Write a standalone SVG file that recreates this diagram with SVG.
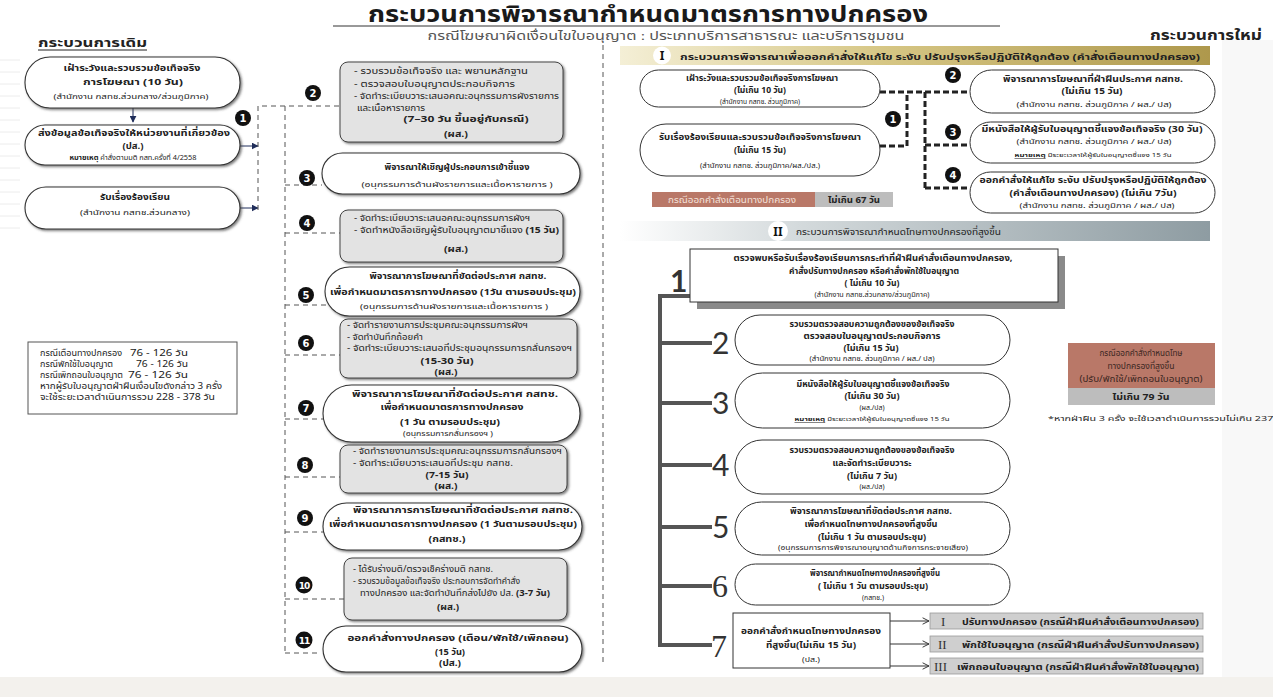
<svg xmlns="http://www.w3.org/2000/svg" width="1273" height="697" viewBox="0 0 1273 697">
<style>
text{font-family:"Noto Sans Thai","Noto Sans","DejaVu Sans",sans-serif;fill:#222;}
.c{text-anchor:middle;}
.b{font-weight:bold;}
.f9{font-size:9.5px;}
.f8{font-size:8.5px;}
.fb{font-size:8px;}
.f7{font-size:7.5px;}
.f6{font-size:6.5px;}
.f5{font-size:5.5px;}
.pill{fill:#fff;stroke:#333;stroke-width:1.1;filter:url(#sh);}
.pill2{fill:#fff;stroke:#333;stroke-width:1;}
.gbox{fill:#e3e3e3;stroke:#444;stroke-width:1;filter:url(#sh);}
.dash{fill:none;stroke:#555;stroke-width:1;stroke-dasharray:5 4;}
.tdash{fill:none;stroke:#222;stroke-width:3;stroke-dasharray:6 3;}
.badge{fill:#111;}
.bn{fill:#fff;font-family:"DejaVu Sans",sans-serif;font-weight:bold;font-size:10px;text-anchor:middle;}
.brk{fill:none;stroke:#555;stroke-width:4;}
.num{font-family:"Lato","DejaVu Sans",sans-serif;font-size:30px;fill:#333;}
.numS{font-family:"Liberation Serif",serif;font-size:32px;fill:#333;}
.rom{font-family:"Liberation Serif",serif;font-size:13px;fill:#333;}
.arr{stroke:#333;stroke-width:1;fill:none;marker-end:url(#chev);}
.ml{stroke:#ececec;stroke-width:1;}
</style>
<defs>
<filter id="sh" x="-10%" y="-20%" width="120%" height="150%">
<feDropShadow dx="1.5" dy="1.5" stdDeviation="0.8" flood-color="#444" flood-opacity="0.7"/>
</filter>
<linearGradient id="gold" x1="0" x2="1" y1="0" y2="0">
<stop offset="0" stop-color="#f4efd6"/>
<stop offset="0.45" stop-color="#d6c684"/>
<stop offset="1" stop-color="#ae984c"/>
</linearGradient>
<linearGradient id="grey" x1="0" x2="1" y1="0" y2="0">
<stop offset="0" stop-color="#ffffff"/>
<stop offset="0.3" stop-color="#d4dadc"/>
<stop offset="1" stop-color="#8e9ca2"/>
</linearGradient>
<marker id="navy" viewBox="0 0 10 10" refX="9" refY="5" markerWidth="7" markerHeight="7" orient="auto">
<path d="M0 0 L10 5 L0 10 Z" fill="#1f2d5a"/>
</marker>
<marker id="chev" viewBox="0 0 10 10" refX="9" refY="5" markerWidth="8" markerHeight="8" orient="auto" markerUnits="userSpaceOnUse">
<path d="M1 1 L9 5 L1 9" fill="none" stroke="#333" stroke-width="1.2"/>
</marker>
</defs>
<rect width="1273" height="697" fill="#fff"/>
<rect x="0" y="677" width="1273" height="20" fill="#f3f1ed"/>
<rect x="1222" y="40" width="51" height="637" fill="#f8f8f8"/>
<path class="ml" d="M0 60 H20 M0 72 H20 M0 84 H20 M0 96 H20 M0 108 H20 M0 120 H20 M0 132 H20 M0 144 H20 M0 156 H20 M0 168 H20 M0 180 H20 M0 192 H20 M0 204 H20 M0 216 H20 M0 228 H20"/>

<g id="title">
<text x="648" y="22" class="c b" style="font-size:22.5px;fill:#1a1a1a" textLength="560" lengthAdjust="spacingAndGlyphs">กระบวนการพิจารณากำหนดมาตรการทางปกครอง</text>
<line x1="333" y1="26" x2="1000" y2="26" stroke="#333" stroke-width="1"/>
<text x="666" y="39.5" class="c" style="font-size:11.5px;fill:#555" textLength="477" lengthAdjust="spacingAndGlyphs">กรณีโฆษณาผิดเงื่อนไขใบอนุญาต : ประเภทบริการสาธารณะ และบริการชุมชน</text>
<text x="38" y="47" class="b" style="font-size:12.5px" textLength="109" lengthAdjust="spacingAndGlyphs">กระบวนการเดิม</text>
<line x1="38" y1="50" x2="147" y2="50" stroke="#222" stroke-width="1"/>
<text x="1262" y="40" class="b" style="font-size:13.5px;text-anchor:end" textLength="112" lengthAdjust="spacingAndGlyphs">กระบวนการใหม่</text>
</g>

<g id="connectors">
<line x1="133" y1="108" x2="133" y2="122" stroke="#1f2d5a" stroke-width="1" marker-end="url(#navy)"/>
<line x1="240" y1="146" x2="258" y2="146" stroke="#1f2d5a" stroke-width="1" marker-end="url(#navy)"/>
<line x1="240" y1="208" x2="258" y2="208" stroke="#1f2d5a" stroke-width="1" marker-end="url(#navy)"/>
<path class="dash" d="M258 210 V106 H340 M285 106 V653"/>
<path class="dash" d="M285 185 H322 M285 233 H340 M285 305 H328 M285 355 H340 M285 419 H323 M285 477 H340 M285 532 H325 M285 599 H344 M285 653 H318"/>
<path class="dash" d="M603 45 V662"/>
<path class="tdash" d="M880 92 H970 M880 146 H907 V92 M925 92 V188 M925 145 H970 M925 188 H970"/>
<path class="brk" d="M690 296 H660 V645 H712 M660 343 H712 M660 403 H712 M660 465 H712 M660 527 H712 M660 586 H712"/>
<line class="arr" x1="890" y1="621" x2="929" y2="621"/>
<line class="arr" x1="890" y1="644" x2="929" y2="644"/>
<line class="arr" x1="890" y1="666" x2="929" y2="666"/>
</g>

<g id="old-a">
<rect class="pill" x="25" y="57" width="215" height="51" rx="25"/>
<text x="132" y="71" class="c b f9" textLength="137" lengthAdjust="spacingAndGlyphs">เฝ้าระวังและรวบรวมข้อเท็จจริง</text>
<text x="133" y="85" class="c b f9" textLength="100" lengthAdjust="spacingAndGlyphs">การโฆษณา  (10 วัน)</text>
<text x="131" y="99" class="c f7" textLength="155" lengthAdjust="spacingAndGlyphs">(สำนักงาน กสทช.ส่วนกลาง/ส่วนภูมิภาค)</text>
</g>
<g id="old-b">
<rect class="pill" x="25" y="125" width="215" height="40" rx="20"/>
<text x="134" y="136" class="c b f9" textLength="192" lengthAdjust="spacingAndGlyphs">ส่งข้อมูลข้อเท็จจริงให้หน่วยงานที่เกี่ยวข้อง</text>
<text x="133" y="149" class="c b f9" textLength="21" lengthAdjust="spacingAndGlyphs">(ปส.)</text>
<text x="133" y="160" class="c f6" textLength="127" lengthAdjust="spacingAndGlyphs"><tspan class="b">หมายเหตุ</tspan> คำสั่งตามมติ กสท.ครั้งที่ 4/2558</text>
</g>
<g id="old-c">
<rect class="pill" x="25" y="187" width="215" height="42" rx="21"/>
<text x="135" y="200" class="c b f9" textLength="70" lengthAdjust="spacingAndGlyphs">รับเรื่องร้องเรียน</text>
<text x="135" y="215" class="c f7" textLength="110" lengthAdjust="spacingAndGlyphs">(สำนักงาน กสทช.ส่วนกลาง)</text>
</g>
<g id="badge1-old"><circle class="badge" cx="243" cy="118" r="8"/><text class="bn" x="243" y="122">1</text></g>

<g id="legend">
<rect x="28" y="342" width="209" height="72" fill="#fff" stroke="#555" stroke-width="1"/>
<text x="40" y="356" class="f8" textLength="82" lengthAdjust="spacingAndGlyphs">กรณีเตือนทางปกครอง</text><text x="188" y="356" class="f8" style="text-anchor:end" textLength="58" lengthAdjust="spacingAndGlyphs">76 - 126 วัน</text>
<text x="40" y="367" class="f8" textLength="73" lengthAdjust="spacingAndGlyphs">กรณีพักใช้ใบอนุญาต</text><text x="188" y="367" class="f8" style="text-anchor:end" textLength="52" lengthAdjust="spacingAndGlyphs">76 - 126 วัน</text>
<text x="40" y="378" class="f8" textLength="83" lengthAdjust="spacingAndGlyphs">กรณีเพิกถอนใบอนุญาต</text><text x="188" y="378" class="f8" style="text-anchor:end" textLength="60" lengthAdjust="spacingAndGlyphs">76 - 126 วัน</text>
<text x="40" y="389" class="f8" textLength="182" lengthAdjust="spacingAndGlyphs">หากผู้รับใบอนุญาตฝ่าฝืนเงื่อนไขดังกล่าว 3 ครั้ง</text>
<text x="40" y="400" class="f8" textLength="175" lengthAdjust="spacingAndGlyphs">จะใช้ระยะเวลาดำเนินการรวม  228 - 378 วัน</text>
</g>

<g id="old-2">
<rect class="gbox" x="340" y="62" width="223" height="80" rx="8"/>
<text x="354" y="74" class="fb" textLength="174" lengthAdjust="spacingAndGlyphs">- รวบรวมข้อเท็จจริง และ พยานหลักฐาน</text>
<text x="354" y="87" class="fb" textLength="161" lengthAdjust="spacingAndGlyphs">- ตรวจสอบใบอนุญาตประกอบกิจการ</text>
<text x="354" y="99" class="fb" textLength="205" lengthAdjust="spacingAndGlyphs">- จัดทำระเบียบวาระเสนอคณะอนุกรรมการผังรายการ</text>
<text x="357" y="110.5" class="fb" textLength="68" lengthAdjust="spacingAndGlyphs">และเนื้อหารายการ</text>
<text x="466" y="122" class="c b f9" textLength="125" lengthAdjust="spacingAndGlyphs">(7–30 วัน ขึ้นอยู่กับกรณี)</text>
<text x="456" y="137" class="c b f8" textLength="24" lengthAdjust="spacingAndGlyphs">(ผส.)</text>
<circle class="badge" cx="313" cy="93" r="8"/><text class="bn" x="313" y="97">2</text>
</g>
<g id="old-3">
<rect class="pill" x="322" y="153" width="258" height="41" rx="20.5"/>
<text x="457" y="170" class="c b f9" textLength="145" lengthAdjust="spacingAndGlyphs">พิจารณาให้เชิญผู้ประกอบการเข้าชี้แจง</text>
<text x="457" y="187" class="c f7" textLength="191" lengthAdjust="spacingAndGlyphs">(อนุกรรมการด้านผังรายการและเนื้อหารายการ )</text>
<circle class="badge" cx="307" cy="178" r="8"/><text class="bn" x="307" y="182">3</text>
</g>
<g id="old-4">
<rect class="gbox" x="340" y="210" width="223" height="52" rx="8"/>
<text x="354" y="221" class="fb" textLength="176" lengthAdjust="spacingAndGlyphs">- จัดทำระเบียบวาระเสนอคณะอนุกรรมการผังฯ</text>
<text x="354" y="233" class="fb" textLength="205" lengthAdjust="spacingAndGlyphs">- จัดทำหนังสือเชิญผู้รับใบอนุญาตมาชี้แจง <tspan class="b">(15 วัน)</tspan></text>
<text x="456" y="252" class="c b f8" textLength="24" lengthAdjust="spacingAndGlyphs">(ผส.)</text>
<circle class="badge" cx="307" cy="223" r="8"/><text class="bn" x="307" y="227">4</text>
</g>
<g id="old-5">
<rect class="pill" x="325" y="267" width="255" height="49" rx="24.5"/>
<text x="458" y="279" class="c b f9" textLength="177" lengthAdjust="spacingAndGlyphs">พิจารณาการโฆษณาที่ขัดต่อประกาศ กสทช.</text>
<text x="453" y="295" class="c b f9" textLength="246" lengthAdjust="spacingAndGlyphs">เพื่อกำหนดมาตรการทางปกครอง (1วัน ตามรอบประชุม)</text>
<text x="454" y="309" class="c f7" textLength="188" lengthAdjust="spacingAndGlyphs">(อนุกรรมการด้านผังรายการและเนื้อหารายการ )</text>
<circle class="badge" cx="306" cy="295" r="8"/><text class="bn" x="306" y="299">5</text>
</g>
<g id="old-6">
<rect class="gbox" x="340" y="319" width="237" height="59" rx="8"/>
<text x="347" y="328" class="fb" textLength="181" lengthAdjust="spacingAndGlyphs">- จัดทำรายงานการประชุมคณะอนุกรรมการผังฯ</text>
<text x="347" y="339.5" class="fb" textLength="76" lengthAdjust="spacingAndGlyphs">- จัดทำบันทึกถ้อยคำ</text>
<text x="347" y="351" class="fb" textLength="225" lengthAdjust="spacingAndGlyphs">- จัดทำระเบียบวาระเสนอที่ประชุมอนุกรรมการกลั่นกรองฯ</text>
<text x="447" y="363.5" class="c b fb" textLength="53" lengthAdjust="spacingAndGlyphs">(15-30 วัน)</text>
<text x="446" y="375" class="c b fb" textLength="23" lengthAdjust="spacingAndGlyphs">(ผส.)</text>
<circle class="badge" cx="306" cy="343" r="8"/><text class="bn" x="306" y="347">6</text>
</g>
<g id="old-7">
<rect class="pill" x="323" y="385" width="257" height="57" rx="28.5"/>
<text x="455" y="397" class="c b f9" textLength="206" lengthAdjust="spacingAndGlyphs">พิจารณาการโฆษณาที่ขัดต่อประกาศ กสทช.</text>
<text x="452" y="410" class="c b f9" textLength="143" lengthAdjust="spacingAndGlyphs">เพื่อกำหนดมาตรการทางปกครอง</text>
<text x="450" y="425" class="c b f9" textLength="100" lengthAdjust="spacingAndGlyphs">(1 วัน ตามรอบประชุม)</text>
<text x="448" y="435.5" class="c f7" textLength="90" lengthAdjust="spacingAndGlyphs">(อนุกรรมการกลั่นกรองฯ )</text>
<circle class="badge" cx="306" cy="408" r="8"/><text class="bn" x="306" y="412">7</text>
</g>
<g id="old-8">
<rect class="gbox" x="340" y="445" width="227" height="48" rx="8"/>
<text x="353" y="454" class="fb" textLength="209" lengthAdjust="spacingAndGlyphs">- จัดทำรายงานการประชุมคณะอนุกรรมการกลั่นกรองฯ</text>
<text x="353" y="466" class="fb" textLength="160" lengthAdjust="spacingAndGlyphs">- จัดทำระเบียบวาระเสนอที่ประชุม กสทช.</text>
<text x="447" y="478" class="c b fb" textLength="43" lengthAdjust="spacingAndGlyphs">(7-15 วัน)</text>
<text x="446" y="489" class="c b fb" textLength="23" lengthAdjust="spacingAndGlyphs">(ผส.)</text>
<circle class="badge" cx="305" cy="465" r="8"/><text class="bn" x="305" y="469">8</text>
</g>
<g id="old-9">
<rect class="pill" x="323" y="503" width="259" height="47" rx="23.5"/>
<text x="463" y="513" class="c b f9" textLength="220" lengthAdjust="spacingAndGlyphs">พิจารณาการการโฆษณาที่ขัดต่อประกาศ กสทช.</text>
<text x="453" y="527" class="c b f9" textLength="248" lengthAdjust="spacingAndGlyphs">เพื่อกำหนดมาตรการทางปกครอง (1 วันตามรอบประชุม)</text>
<text x="447" y="542" class="c b f8" textLength="37" lengthAdjust="spacingAndGlyphs">(กสทช.)</text>
<circle class="badge" cx="305" cy="518" r="8"/><text class="bn" x="305" y="522">9</text>
</g>
<g id="old-10">
<rect class="gbox" x="344" y="558" width="223" height="62" rx="8"/>
<text x="353" y="572" class="fb" textLength="140" lengthAdjust="spacingAndGlyphs">- ได้รับร่างมติ/ตรวจเช็คร่างมติ กสทช.</text>
<text x="353" y="584" class="fb" textLength="167" lengthAdjust="spacingAndGlyphs">- รวบรวมข้อมูลข้อเท็จจริง ประกอบการจัดทำคำสั่ง</text>
<text x="360" y="596" class="fb" textLength="190" lengthAdjust="spacingAndGlyphs">ทางปกครอง และจัดทำบันทึกส่งไปยัง ปส. <tspan class="b">(3-7 วัน)</tspan></text>
<text x="448" y="610" class="c b f8" textLength="22" lengthAdjust="spacingAndGlyphs">(ผส.)</text>
<circle class="badge" cx="304" cy="585" r="8.5"/><text class="bn" x="304" y="589" style="font-size:9px;letter-spacing:-1px">10</text>
</g>
<g id="old-11">
<rect class="pill" x="323" y="626" width="259" height="46" rx="23"/>
<text x="458" y="641" class="c b f9" textLength="221" lengthAdjust="spacingAndGlyphs">ออกคำสั่งทางปกครอง (เตือน/พักใช้/เพิกถอน)</text>
<text x="450" y="655" class="c b f8" textLength="30" lengthAdjust="spacingAndGlyphs">(15 วัน)</text>
<text x="450" y="666" class="c b f8" textLength="22" lengthAdjust="spacingAndGlyphs">(ปส.)</text>
<circle class="badge" cx="304" cy="640" r="8.5"/><text class="bn" x="304" y="644" style="font-size:9px;letter-spacing:-1px">11</text>
</g>

<g id="band-1">
<rect x="620" y="46" width="590" height="19" fill="url(#gold)"/>
<circle cx="662" cy="55.5" r="9" fill="#fff"/>
<text x="662" y="60" class="c b" style="font-size:12px;fill:#111">I</text>
<text x="680" y="59.5" class="b f9" textLength="520" lengthAdjust="spacingAndGlyphs">กระบวนการพิจารณาเพื่อออกคำสั่งให้แก้ไข ระงับ ปรับปรุงหรือปฏิบัติให้ถูกต้อง (คำสั่งเตือนทางปกครอง)</text>
</g>
<g id="new-1a">
<rect class="pill2" x="640" y="70" width="240" height="37" rx="18.5"/>
<text x="762" y="81" class="c b f8" textLength="152" lengthAdjust="spacingAndGlyphs">เฝ้าระวังและรวบรวมข้อเท็จจริงการโฆษณา</text>
<text x="760" y="93" class="c b f8" textLength="52" lengthAdjust="spacingAndGlyphs">(ไม่เกิน 10 วัน)</text>
<text x="760" y="104" class="c f6" textLength="80" lengthAdjust="spacingAndGlyphs">(สำนักงาน กสทช. ส่วนภูมิภาค)</text>
</g>
<g id="new-1b">
<rect class="pill2" x="640" y="124" width="240" height="52" rx="26"/>
<text x="760" y="140" class="c b f8" textLength="202" lengthAdjust="spacingAndGlyphs">รับเรื่องร้องเรียนและรวบรวมข้อเท็จจริงการโฆษณา</text>
<text x="760" y="153" class="c b f8" textLength="52" lengthAdjust="spacingAndGlyphs">(ไม่เกิน 15 วัน)</text>
<text x="760" y="168" class="c f6" textLength="120" lengthAdjust="spacingAndGlyphs">(สำนักงาน กสทช. ส่วนภูมิภาค/ผส./ปส.)</text>
</g>
<g id="badge1-new"><circle class="badge" cx="893" cy="119" r="8"/><text class="bn" x="893" y="123">1</text></g>
<g id="new-2">
<rect class="pill2" x="970" y="70" width="245" height="43" rx="21.5"/>
<text x="1093" y="82" class="c b f8" textLength="180" lengthAdjust="spacingAndGlyphs">พิจารณาการโฆษณาที่ฝ่าฝืนประกาศ กสทช.</text>
<text x="1092" y="94" class="c b f8" textLength="61" lengthAdjust="spacingAndGlyphs">(ไม่เกิน 15 วัน)</text>
<text x="1094" y="107" class="c f6" textLength="155" lengthAdjust="spacingAndGlyphs">(สำนักงาน กสทช. ส่วนภูมิภาค / ผส./ ปส)</text>
<circle class="badge" cx="953" cy="75" r="8"/><text class="bn" x="953" y="79">2</text>
</g>
<g id="new-3">
<rect class="pill2" x="970" y="122" width="245" height="41" rx="20.5"/>
<text x="1092" y="132" class="c b f8" textLength="221" lengthAdjust="spacingAndGlyphs">มีหนังสือให้ผู้รับใบอนุญาตชี้แจงข้อเท็จจริง (30 วัน)</text>
<text x="1094" y="144" class="c f6" textLength="155" lengthAdjust="spacingAndGlyphs">(สำนักงาน กสทช. ส่วนภูมิภาค / ผส./ ปส)</text>
<text x="1093" y="157" class="c f5" textLength="157" lengthAdjust="spacingAndGlyphs"><tspan class="b" text-decoration="underline">หมายเหตุ</tspan> มีระยะเวลาให้ผู้รับใบอนุญาตชี้แจง 15 วัน</text>
<circle class="badge" cx="953" cy="132" r="8"/><text class="bn" x="953" y="136">3</text>
</g>
<g id="new-4">
<rect class="pill2" x="970" y="172" width="245" height="41" rx="20.5"/>
<text x="1093" y="183" class="c b f8" textLength="227" lengthAdjust="spacingAndGlyphs">ออกคำสั่งให้แก้ไข ระงับ ปรับปรุงหรือปฏิบัติให้ถูกต้อง</text>
<text x="1093" y="196" class="c b f8" textLength="167" lengthAdjust="spacingAndGlyphs">(คำสั่งเตือนทางปกครอง) (ไม่เกิน 7วัน)</text>
<text x="1097" y="208" class="c f6" textLength="155" lengthAdjust="spacingAndGlyphs">(สำนักงาน กสทช. ส่วนภูมิภาค / ผส./ ปส)</text>
<circle class="badge" cx="953" cy="175" r="8"/><text class="bn" x="953" y="179">4</text>
</g>
<g id="total-1">
<rect x="652" y="192" width="163" height="15" fill="#b97868"/>
<rect x="815" y="192" width="78" height="15" fill="#bdbdbd"/>
<text x="732" y="203" class="c f8" style="fill:#f5e3dc" textLength="128" lengthAdjust="spacingAndGlyphs">กรณีออกคำสั่งเตือนทางปกครอง</text>
<text x="854" y="203" class="c b f8" textLength="52" lengthAdjust="spacingAndGlyphs">ไม่เกิน  67 วัน</text>
</g>

<g id="band-2">
<rect x="620" y="221" width="590" height="20" fill="url(#grey)"/>
<circle cx="778" cy="231" r="10" fill="#fff"/>
<text x="778" y="235.5" class="c b" style="font-size:12px;fill:#111">II</text>
<text x="796" y="235" class="f9" textLength="205" lengthAdjust="spacingAndGlyphs">กระบวนการพิจารณากำหนดโทษทางปกครองที่สูงขึ้น</text>
</g>
<g id="new2-1">
<rect x="697" y="256" width="368" height="53" fill="#8a8a8a"/>
<rect x="690" y="249" width="368" height="53" fill="#fff" stroke="#333" stroke-width="1"/>
<text x="873" y="261" class="c b f8" textLength="279" lengthAdjust="spacingAndGlyphs">ตรวจพบหรือรับเรื่องร้องเรียนการกระทำที่ฝ่าฝืนคำสั่งเตือนทางปกครอง,</text>
<text x="874" y="274" class="c b f8" textLength="170" lengthAdjust="spacingAndGlyphs">คำสั่งปรับทางปกครอง หรือคำสั่งพักใช้ใบอนุญาต</text>
<text x="872" y="286" class="c b f8" textLength="55" lengthAdjust="spacingAndGlyphs">( ไม่เกิน 10 วัน)</text>
<text x="872" y="297" class="c f6" textLength="115" lengthAdjust="spacingAndGlyphs">(สำนักงาน กสทช.ส่วนกลาง/ส่วนภูมิภาค)</text>
<text x="670" y="292" class="num" style="font-weight:bold">1</text>
</g>
<g id="new2-2">
<rect class="pill2" x="735" y="315" width="275" height="50" rx="25"/>
<text x="872" y="327" class="c b f8" textLength="165" lengthAdjust="spacingAndGlyphs">รวบรวมตรวจสอบความถูกต้องของข้อเท็จจริง</text>
<text x="872" y="339" class="c b f8" textLength="137" lengthAdjust="spacingAndGlyphs">ตรวจสอบใบอนุญาตประกอบกิจการ</text>
<text x="871" y="351" class="c b f8" textLength="55" lengthAdjust="spacingAndGlyphs">(ไม่เกิน 15 วัน)</text>
<text x="872" y="361" class="c f6" textLength="125" lengthAdjust="spacingAndGlyphs">(สำนักงาน กสทช. ส่วนภูมิภาค / ผส./ ปส)</text>
<text x="712" y="354" class="num">2</text>
</g>
<g id="new2-3">
<rect class="pill2" x="735" y="373" width="275" height="55" rx="27.5"/>
<text x="873" y="387" class="c b f8" textLength="153" lengthAdjust="spacingAndGlyphs">มีหนังสือให้ผู้รับใบอนุญาตชี้แจงข้อเท็จจริง</text>
<text x="872" y="399" class="c b f8" textLength="55" lengthAdjust="spacingAndGlyphs">(ไม่เกิน 30 วัน)</text>
<text x="872" y="410" class="c f6" textLength="25" lengthAdjust="spacingAndGlyphs">(ผส./ปส)</text>
<text x="872" y="421" class="c f5" textLength="155" lengthAdjust="spacingAndGlyphs"><tspan class="b" text-decoration="underline">หมายเหตุ</tspan> มีระยะเวลาให้ผู้รับใบอนุญาตชี้แจง 15 วัน</text>
<text x="712" y="414" class="num">3</text>
</g>
<g id="new2-4">
<rect class="pill2" x="735" y="440" width="275" height="54" rx="27"/>
<text x="872" y="453" class="c b f8" textLength="165" lengthAdjust="spacingAndGlyphs">รวบรวมตรวจสอบความถูกต้องของข้อเท็จจริง</text>
<text x="872" y="466" class="c b f8" textLength="79" lengthAdjust="spacingAndGlyphs">และจัดทำระเบียบวาระ</text>
<text x="872" y="479" class="c b f8" textLength="50" lengthAdjust="spacingAndGlyphs">(ไม่เกิน 7 วัน)</text>
<text x="872" y="489" class="c f6" textLength="25" lengthAdjust="spacingAndGlyphs">(ผส./ปส)</text>
<text x="712" y="476" class="num">4</text>
</g>
<g id="new2-5">
<rect class="pill2" x="735" y="502" width="275" height="53" rx="26.5"/>
<text x="871" y="514" class="c b f8" textLength="162" lengthAdjust="spacingAndGlyphs">พิจารณาการโฆษณาที่ขัดต่อประกาศ กสทช.</text>
<text x="871" y="527" class="c b f8" textLength="133" lengthAdjust="spacingAndGlyphs">เพื่อกำหนดโทษทางปกครองที่สูงขึ้น</text>
<text x="872" y="540" class="c b f8" textLength="108" lengthAdjust="spacingAndGlyphs">(ไม่เกิน 1 วัน ตามรอบประชุม)</text>
<text x="873" y="550" class="c f6" textLength="190" lengthAdjust="spacingAndGlyphs">(อนุกรรมการการพิจารณาอนุญาตด้านกิจการกระจายเสียง)</text>
<text x="712" y="538" class="num">5</text>
</g>
<g id="new2-6">
<rect class="pill2" x="735" y="564" width="275" height="41" rx="20.5"/>
<text x="875" y="576" class="c b f8" textLength="130" lengthAdjust="spacingAndGlyphs">พิจารณากำหนดโทษทางปกครองที่สูงขึ้น</text>
<text x="873" y="589" class="c b f8" textLength="110" lengthAdjust="spacingAndGlyphs">( ไม่เกิน 1 วัน ตามรอบประชุม)</text>
<text x="873" y="600" class="c f6" textLength="22" lengthAdjust="spacingAndGlyphs">(กสทช.)</text>
<text x="712" y="597" class="numS">6</text>
</g>
<g id="new2-7">
<rect x="733" y="613" width="157" height="55" fill="#fff" stroke="#333" stroke-width="1"/>
<text x="811" y="634" class="c b f8" textLength="140" lengthAdjust="spacingAndGlyphs">ออกคำสั่งกำหนดโทษทางปกครอง</text>
<text x="811" y="648" class="c b f8" textLength="90" lengthAdjust="spacingAndGlyphs">ที่สูงขึ้น(ไม่เกิน 15 วัน)</text>
<text x="811" y="662" class="c f6" textLength="18" lengthAdjust="spacingAndGlyphs">(ปส.)</text>
<text x="711" y="657" class="numS">7</text>
</g>
<g id="out-1">
<rect x="930" y="613" width="273" height="16" fill="#cfcfcf" stroke="#9a9a9a" stroke-width="0.8"/>
<text x="941" y="626" class="rom">I</text>
<text x="962" y="624.5" class="b f8" textLength="237" lengthAdjust="spacingAndGlyphs">ปรับทางปกครอง (กรณีฝ่าฝืนคำสั่งเตือนทางปกครอง)</text>
</g>
<g id="out-2">
<rect x="930" y="636" width="273" height="16" fill="#cfcfcf" stroke="#9a9a9a" stroke-width="0.8"/>
<text x="938" y="649" class="rom">II</text>
<text x="962" y="647.5" class="b f8" textLength="237" lengthAdjust="spacingAndGlyphs">พักใช้ใบอนุญาต  (กรณีฝ่าฝืนคำสั่งปรับทางปกครอง)</text>
</g>
<g id="out-3">
<rect x="930" y="658" width="273" height="16" fill="#cfcfcf" stroke="#9a9a9a" stroke-width="0.8"/>
<text x="934" y="671" class="rom">III</text>
<text x="957" y="669.5" class="b f8" textLength="242" lengthAdjust="spacingAndGlyphs">เพิกถอนใบอนุญาต (กรณีฝ่าฝืนคำสั่งพักใช้ใบอนุญาต)</text>
</g>
<g id="total-2">
<rect x="1068" y="343" width="147" height="45" fill="#b97868"/>
<rect x="1068" y="388" width="147" height="17" fill="#bdbdbd"/>
<text x="1141" y="356" class="c f8" style="fill:#3a2622" textLength="83" lengthAdjust="spacingAndGlyphs">กรณีออกคำสั่งกำหนดโทษ</text>
<text x="1141" y="369" class="c f8" style="fill:#3a2622" textLength="67" lengthAdjust="spacingAndGlyphs">ทางปกครองที่สูงขึ้น</text>
<text x="1141" y="382" class="c f8" style="fill:#3a2622" textLength="123" lengthAdjust="spacingAndGlyphs">(ปรับ/พักใช้/เพิกถอนใบอนุญาต)</text>
<text x="1141" y="400" class="c b f8" textLength="57" lengthAdjust="spacingAndGlyphs">ไม่เกิน  79 วัน</text>
<text x="1048" y="421" class="f6" textLength="240" lengthAdjust="spacingAndGlyphs">*หากฝ่าฝืน 3 ครั้ง จะใช้เวลาดำเนินการรวมไม่เกิน 237 วัน</text>
</g>
</svg>
